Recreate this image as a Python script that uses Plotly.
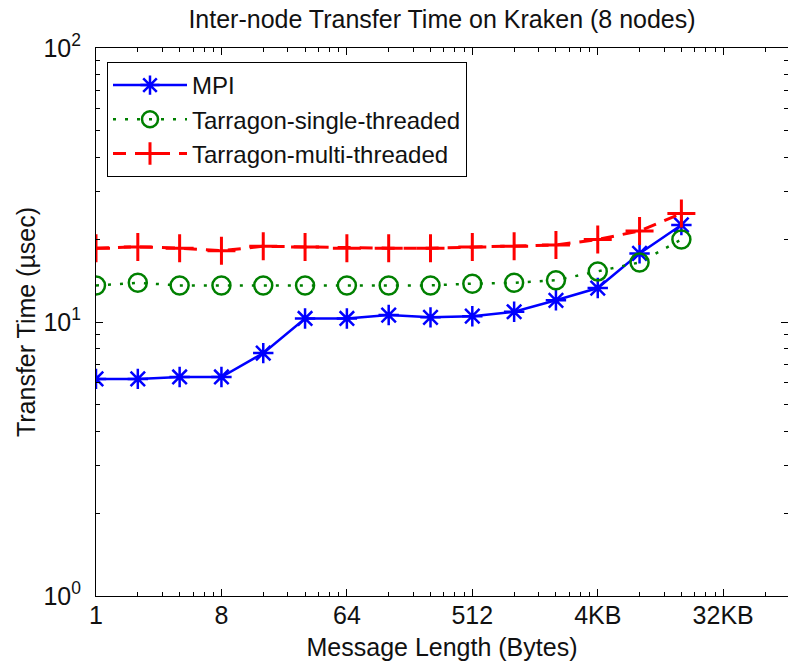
import plotly.graph_objs as go

# message sizes in bytes
msg_bytes = [1, 2, 4, 8, 16, 32, 64, 128, 256, 512, 1024, 2048, 4096, 8192, 16384]

# transfer time in usec
mpi = [6.2, 6.2, 6.3, 6.3, 7.7, 10.3, 10.3, 10.6, 10.4, 10.5, 10.9, 12.0, 13.3, 17.8, 22.6]
single_threaded = [13.6, 13.9, 13.6, 13.6, 13.6, 13.6, 13.6, 13.6, 13.6, 13.8, 13.9, 14.2, 15.3, 16.5, 20.0]
multi_threaded = [18.6, 18.8, 18.6, 18.2, 18.9, 18.8, 18.6, 18.6, 18.6, 18.8, 18.9, 19.1, 20.0, 21.5, 24.9]

x_ticks = [1, 8, 64, 512, 4096, 32768]
x_ticktext = ['1', '8', '64', '512', '4KB', '32KB']
y_ticks = [1, 10, 100]
y_ticktext = ['10<sup>0</sup>', '10<sup>1</sup>', '10<sup>2</sup>']

FONT = 'Liberation Sans, Arial, sans-serif'
FONT_SIZE = 25
TEXT_COLOR = '#111111'

x_minor = [k * 8 ** n for n in range(6) for k in range(2, 8)]
y_minor = [k * 10 ** n for n in range(2) for k in range(2, 10)]

traces = [
    go.Scatter(
        name='MPI',
        x=msg_bytes,
        y=mpi,
        mode='lines+markers',
        line=dict(color='#0000ff', width=2.5),
        marker=dict(
            symbol='asterisk-open',
            size=17,
            line=dict(color='#0000ff', width=2.5),
            ),
        ),
    go.Scatter(
        name='Tarragon-single-threaded',
        x=msg_bytes,
        y=single_threaded,
        mode='lines+markers',
        line=dict(color='#008000', width=2.5, dash='3px,9px'),
        marker=dict(
            symbol='circle-open',
            size=18,
            line=dict(color='#008000', width=2.5),
            ),
        ),
    go.Scatter(
        name='Tarragon-multi-threaded',
        x=msg_bytes,
        y=multi_threaded,
        mode='lines+markers',
        line=dict(color='#ff0000', width=3, dash='13px,9px'),
        marker=dict(
            symbol='cross-thin-open',
            size=20,
            line=dict(color='#ff0000', width=3),
            ),
        ),
    ]

# right edge of the box sits at about 2^16.55 bytes
x_range = [0, 16.55 * 0.30103]

label_font = dict(family=FONT, size=FONT_SIZE, color=TEXT_COLOR)

layout = go.Layout(
    width=788,
    height=664,
    margin=dict(l=96, r=0, t=48, b=68),
    paper_bgcolor='white',
    plot_bgcolor='white',
    font=label_font,
    showlegend=True,
    title=dict(
        text='Inter-node Transfer Time on Kraken (8 nodes)',
        x=0.5,
        xref='paper',
        xanchor='center',
        y=1 - 19 / 664,
        yref='container',
        yanchor='middle',
        font=label_font,
        ),
    xaxis=dict(
        type='log',
        range=x_range,
        title=dict(text='Message Length (Bytes)', standoff=10, font=label_font),
        tickmode='array',
        tickvals=x_ticks,
        ticktext=x_ticktext,
        tickfont=label_font,
        ticks='inside',
        ticklen=7,
        tickwidth=1,
        tickcolor='black',
        ticklabelstandoff=-3,
        showline=True,
        linecolor='black',
        linewidth=1,
        mirror='ticks',
        showgrid=False,
        zeroline=False,
        minor=dict(
            tickmode='array',
            tickvals=x_minor,
            ticks='inside',
            ticklen=4,
            tickwidth=1,
            tickcolor='black',
            showgrid=False,
            ),
        ),
    yaxis=dict(
        type='log',
        range=[0, 2],
        title=dict(text='Transfer Time (µsec)', standoff=0, font=label_font),
        tickmode='array',
        tickvals=y_ticks,
        ticktext=y_ticktext,
        tickfont=label_font,
        ticks='inside',
        ticklen=7,
        tickwidth=1,
        tickcolor='black',
        ticklabelstandoff=9,
        showline=True,
        linecolor='black',
        linewidth=1,
        mirror='ticks',
        showgrid=False,
        zeroline=False,
        minor=dict(
            tickmode='array',
            tickvals=y_minor,
            ticks='inside',
            ticklen=4,
            tickwidth=1,
            tickcolor='black',
            showgrid=False,
            ),
        ),
    legend=dict(
        x=(107 - 96) / 692,
        y=(596 - 62) / 548,
        xanchor='left',
        yanchor='top',
        bgcolor='white',
        bordercolor='black',
        borderwidth=1,
        font=dict(family=FONT, size=24, color=TEXT_COLOR),
        itemwidth=74,
        tracegroupgap=0,
        ),
    )

fig = go.Figure(data=traces, layout=layout)
# the page body has an 8px default margin; drop it so the figure fills the window
fig.write_html('out.html', config={'displayModeBar': False},
               post_script="document.body.style.margin = '0px';")
